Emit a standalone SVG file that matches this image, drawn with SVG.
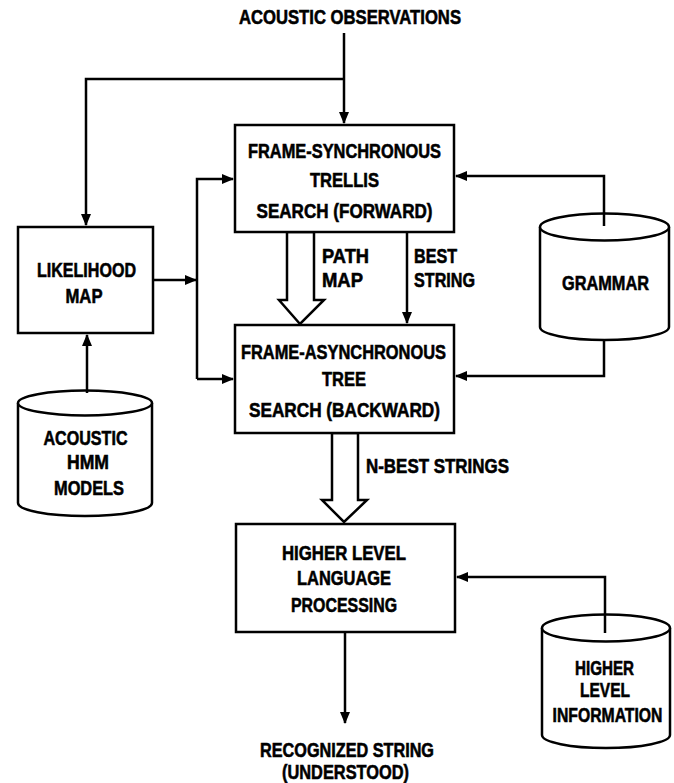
<svg xmlns="http://www.w3.org/2000/svg" width="674" height="783" viewBox="0 0 674 783">
<style>
text{font-family:"Liberation Sans",Arial,sans-serif;font-weight:bold;font-size:21px;fill:#000;stroke:#000;stroke-width:0.6;text-anchor:middle}
.box{fill:#fff;stroke:#000;stroke-width:2.5}
.ln{fill:none;stroke:#000;stroke-width:2.5}
.hollow{fill:#fff;stroke:#000;stroke-width:2.5;stroke-linejoin:miter}
</style>
<defs>
<marker id="ah" markerUnits="userSpaceOnUse" markerWidth="12" markerHeight="10" refX="11" refY="5" orient="auto">
<path d="M0,0 L12,5 L0,10 z" fill="#000"/>
</marker>
</defs>
<rect width="674" height="783" fill="#fff"/>

<g id="connectors">
<path class="ln" d="M344,33 V123" marker-end="url(#ah)"/>
<path class="ln" d="M344,79 H86 V225" marker-end="url(#ah)"/>
<path class="ln" d="M153,280 H196" marker-end="url(#ah)"/>
<path class="ln" d="M197,379 V179 H233" marker-end="url(#ah)"/>
<path class="ln" d="M197,379 H233" marker-end="url(#ah)"/>
<path class="ln" d="M604,226 V176 H456" marker-end="url(#ah)"/>
<path class="ln" d="M604,340 V376 H456" marker-end="url(#ah)"/>
<path class="ln" d="M87,393 V335" marker-end="url(#ah)"/>
<path class="ln" d="M407,232 V323" marker-end="url(#ah)"/>
<path class="ln" d="M605,633 V577 H457" marker-end="url(#ah)"/>
<path class="ln" d="M345,632 V723" marker-end="url(#ah)"/>
<polygon class="hollow" points="287,232 314,232 314,300 324,300 300,324 279,300 287,300"/>
<polygon class="hollow" points="332,433 358,433 358,500 367,500 344,522 322,500 332,500"/>
</g>

<text x="350" y="24" textLength="222" lengthAdjust="spacingAndGlyphs">ACOUSTIC OBSERVATIONS</text>

<g id="trellis">
<rect class="box" x="235" y="125" width="219" height="107"/>
<text x="344.5" y="158" textLength="193" lengthAdjust="spacingAndGlyphs">FRAME-SYNCHRONOUS</text>
<text x="344.5" y="187" textLength="69" lengthAdjust="spacingAndGlyphs">TRELLIS</text>
<text x="344.5" y="218" textLength="176" lengthAdjust="spacingAndGlyphs">SEARCH (FORWARD)</text>
</g>

<g id="likelihood">
<rect class="box" x="18" y="227" width="135" height="106"/>
<text x="86.5" y="277" textLength="99" lengthAdjust="spacingAndGlyphs">LIKELIHOOD</text>
<text x="84" y="303" textLength="37" lengthAdjust="spacingAndGlyphs">MAP</text>
</g>

<g id="labels">
<text x="345.5" y="263" textLength="47" lengthAdjust="spacingAndGlyphs">PATH</text>
<text x="342.5" y="287" textLength="41" lengthAdjust="spacingAndGlyphs">MAP</text>
<text x="435.5" y="263" textLength="43" lengthAdjust="spacingAndGlyphs">BEST</text>
<text x="444.5" y="287" textLength="61" lengthAdjust="spacingAndGlyphs">STRING</text>
<text x="437.5" y="473" textLength="143" lengthAdjust="spacingAndGlyphs">N-BEST STRINGS</text>
</g>

<g id="grammar">
<path class="box" d="M540,227 V327 A64.5,13 0 0 0 669,327 V227"/>
<ellipse class="box" cx="604.5" cy="227" rx="64.5" ry="13.5"/>
<line class="ln" x1="604" y1="226" x2="604" y2="214"/>
<text x="605.5" y="290" textLength="87" lengthAdjust="spacingAndGlyphs">GRAMMAR</text>
</g>

<g id="tree">
<rect class="box" x="235" y="325" width="219" height="108"/>
<text x="343.5" y="359" textLength="205" lengthAdjust="spacingAndGlyphs">FRAME-ASYNCHRONOUS</text>
<text x="344" y="386" textLength="44" lengthAdjust="spacingAndGlyphs">TREE</text>
<text x="344.5" y="417" textLength="191" lengthAdjust="spacingAndGlyphs">SEARCH (BACKWARD)</text>
</g>

<g id="acoustic-hmm">
<path class="box" d="M18,403 V503 A67,13 0 0 0 152,503 V403"/>
<ellipse class="box" cx="85" cy="403" rx="67" ry="12.5"/>
<line class="ln" x1="87" y1="393" x2="87" y2="390"/>
<text x="85.5" y="445" textLength="84" lengthAdjust="spacingAndGlyphs">ACOUSTIC</text>
<text x="88" y="469" textLength="42" lengthAdjust="spacingAndGlyphs">HMM</text>
<text x="89" y="495" textLength="70" lengthAdjust="spacingAndGlyphs">MODELS</text>
</g>

<g id="higher-level">
<rect class="box" x="236" y="524" width="219" height="108"/>
<text x="344" y="560" textLength="124" lengthAdjust="spacingAndGlyphs">HIGHER LEVEL</text>
<text x="344" y="585" textLength="94" lengthAdjust="spacingAndGlyphs">LANGUAGE</text>
<text x="344" y="612" textLength="106" lengthAdjust="spacingAndGlyphs">PROCESSING</text>
</g>

<g id="higher-info">
<path class="box" d="M542,628 V735 A64,13 0 0 0 670,735 V628"/>
<ellipse class="box" cx="606" cy="628" rx="64" ry="13.5"/>
<line class="ln" x1="605" y1="633" x2="605" y2="615"/>
<text x="604.5" y="675" textLength="59" lengthAdjust="spacingAndGlyphs">HIGHER</text>
<text x="605" y="697" textLength="50" lengthAdjust="spacingAndGlyphs">LEVEL</text>
<text transform="translate(607.5,722) scale(0.75,1)" x="0" y="0">INFORMATION</text>
</g>

<g id="output">
<text x="347" y="757" textLength="174" lengthAdjust="spacingAndGlyphs">RECOGNIZED STRING</text>
<text x="345.5" y="779" textLength="127" lengthAdjust="spacingAndGlyphs">(UNDERSTOOD)</text>
</g>
</svg>
